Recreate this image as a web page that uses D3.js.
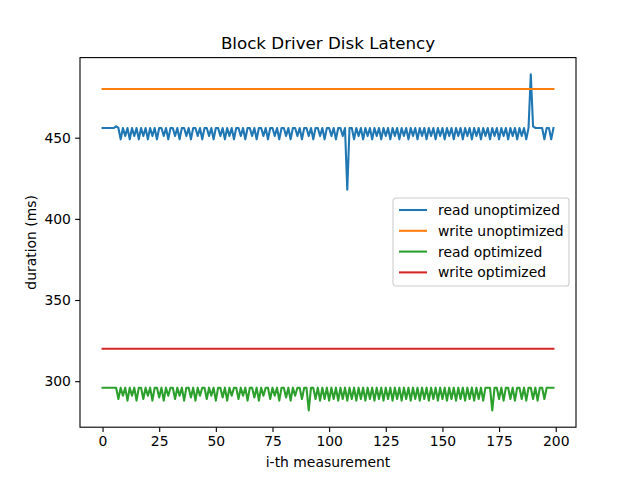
<!DOCTYPE html>
<html>
<head>
<meta charset="utf-8">
<script src="https://cdn.jsdelivr.net/npm/d3@7"></script>
<style>
  body { margin: 0; background: #fff; }
  svg { font-family: "DejaVu Sans", sans-serif; }
</style>
</head>
<body>
<svg id="chart" width="640" height="480"></svg>
<script>
// measurements, one value per run (ms)
var readUnoptimized = [
  456,456,456,456,456,456,457,456,449,456,451,456,449,456,451,456,449,456,451,456,
  449,456,451,456,449,456,456,451,456,449,456,456,451,456,449,456,456,451,456,449,
  456,456,451,456,449,456,456,451,456,449,456,456,451,456,449,456,451,456,449,456,
  456,451,456,449,456,456,451,456,449,456,456,451,456,449,456,456,451,456,449,456,
  456,451,456,449,456,456,451,456,449,456,456,451,456,449,456,456,451,456,449,456,
  456,451,456,449,456,456,451,456,418,456,456,449,456,451,456,449,456,451,456,449,
  456,451,456,449,456,451,456,449,456,451,456,449,456,451,456,449,456,451,456,449,
  456,451,456,449,456,451,456,449,456,451,456,449,456,451,456,449,456,451,456,449,
  456,451,456,449,456,451,456,449,456,451,456,449,456,451,456,449,456,451,456,449,
  456,451,456,449,456,451,456,449,456,489,457,456,456,456,456,449,456,456,449,456
];
var writeUnoptimized = new Array(200).fill(480);
var readOptimized = [
  296,296,296,296,296,296,296,289,296,291,296,288,296,291,296,288,296,296,289,296,
  291,296,288,296,296,290,296,288,296,291,296,296,289,296,291,296,288,296,296,290,
  296,288,296,291,296,296,289,296,291,296,288,296,296,290,296,288,296,291,296,296,
  289,296,291,296,288,296,296,290,296,288,296,291,296,296,289,296,291,296,288,296,
  296,290,296,288,296,291,296,296,289,296,296,282,296,296,289,296,288,296,289,296,
  288,296,289,296,288,296,289,296,288,296,289,296,288,296,289,296,288,296,289,296,
  288,296,289,296,288,296,289,296,288,296,289,296,288,296,289,296,288,296,289,296,
  288,296,289,296,288,296,289,296,288,296,289,296,288,296,289,296,288,296,289,296,
  288,296,289,296,288,296,289,296,288,296,296,296,282,296,296,289,296,288,296,296,
  289,296,288,296,296,289,296,288,296,296,289,296,288,296,296,289,296,296,296,296
];
var writeOptimized = new Array(200).fill(320);

var seriesNames = ['read unoptimized', 'write unoptimized', 'read optimized', 'write optimized'];
var seriesColors = ['#1f77b4', '#ff7f0e', '#2ca02c', '#d62728'];
var xTicks = [0, 25, 50, 75, 100, 125, 150, 175, 200];
var yTicks = [300, 350, 400, 450];

var allSeries = [readUnoptimized, writeUnoptimized, readOptimized, writeOptimized];

var svg = d3.select('#chart');
// plot area, same as matplotlib's default subplot box
var plotLeft = 80, plotRight = 576, plotTop = 57.6, plotBottom = 427.2;

// matplotlib style 5% margins
var n = readUnoptimized.length;
var xPad = (n - 1) * 0.05;
var yMin = d3.min(allSeries, function (s) { return d3.min(s); });
var yMax = d3.max(allSeries, function (s) { return d3.max(s); });
var yPad = (yMax - yMin) * 0.05;

var x = d3.scaleLinear().domain([-xPad, n - 1 + xPad]).range([plotLeft, plotRight]);
var y = d3.scaleLinear().domain([yMin - yPad, yMax + yPad]).range([plotBottom, plotTop]);

var line = d3.line()
  .x(function (d, i) { return x(i); })
  .y(function (d) { return y(d); });

svg.append('defs').append('clipPath').attr('id', 'clip')
  .append('rect').attr('x', plotLeft).attr('y', plotTop)
  .attr('width', plotRight - plotLeft).attr('height', plotBottom - plotTop);

svg.append('g').attr('clip-path', 'url(#clip)')
  .selectAll('path')
  .data(allSeries)
  .enter()
  .append('path')
  .attr('d', line)
  .attr('fill', 'none')
  .attr('stroke', function (d, i) { return seriesColors[i]; })
  .attr('stroke-width', 2.08)
  .attr('stroke-linejoin', 'round')
  .attr('stroke-linecap', 'square');

// axes
var xAxis = svg.append('g')
  .attr('transform', 'translate(0,' + plotBottom + ')')
  .call(d3.axisBottom(x).tickValues(xTicks).tickSize(4.86).tickPadding(4.2));
var yAxis = svg.append('g')
  .attr('transform', 'translate(' + plotLeft + ',0)')
  .call(d3.axisLeft(y).tickValues(yTicks).tickSize(4.86).tickPadding(4.2));

[xAxis, yAxis].forEach(function (ax) {
  ax.select('.domain').remove();
  ax.selectAll('line').attr('stroke', '#000').attr('stroke-width', 1.1);
  ax.selectAll('text').attr('font-size', '13.9px').attr('fill', '#000')
    .attr('font-family', '"DejaVu Sans", sans-serif');
});

svg.append('rect')
  .attr('x', plotLeft).attr('y', plotTop)
  .attr('width', plotRight - plotLeft).attr('height', plotBottom - plotTop)
  .attr('fill', 'none').attr('stroke', '#000').attr('stroke-width', 1.1);

// labels
svg.append('text')
  .attr('x', (plotLeft + plotRight) / 2).attr('y', 49)
  .attr('text-anchor', 'middle').attr('font-size', '16.7px')
  .text('Block Driver Disk Latency');

svg.append('text')
  .attr('x', (plotLeft + plotRight) / 2).attr('y', 467)
  .attr('text-anchor', 'middle').attr('font-size', '13.9px')
  .text('i-th measurement');

svg.append('text')
  .attr('transform', 'translate(36,' + (plotTop + plotBottom) / 2 + ') rotate(-90)')
  .attr('text-anchor', 'middle').attr('font-size', '13.9px')
  .text('duration (ms)');

// legend
var legend = svg.append('g').attr('transform', 'translate(393,198)');
legend.append('rect')
  .attr('width', 176).attr('height', 88)
  .attr('rx', 2.8)
  .attr('fill', '#fff').attr('fill-opacity', 0.8)
  .attr('stroke', '#cccccc').attr('stroke-width', 1.1);

var items = legend.selectAll('.legend-item')
  .data(seriesNames)
  .enter()
  .append('g')
  .classed('legend-item', true)
  .attr('transform', function (d, i) { return 'translate(0,' + (12 + i * 20.8) + ')'; });

items.append('line')
  .attr('x1', 6).attr('x2', 34)
  .attr('stroke', function (d, i) { return seriesColors[i]; })
  .attr('stroke-width', 2.08);

items.append('text')
  .attr('x', 45).attr('y', 5)
  .attr('font-size', '13.9px')
  .text(function (d) { return d; });
</script>
</body>
</html>
